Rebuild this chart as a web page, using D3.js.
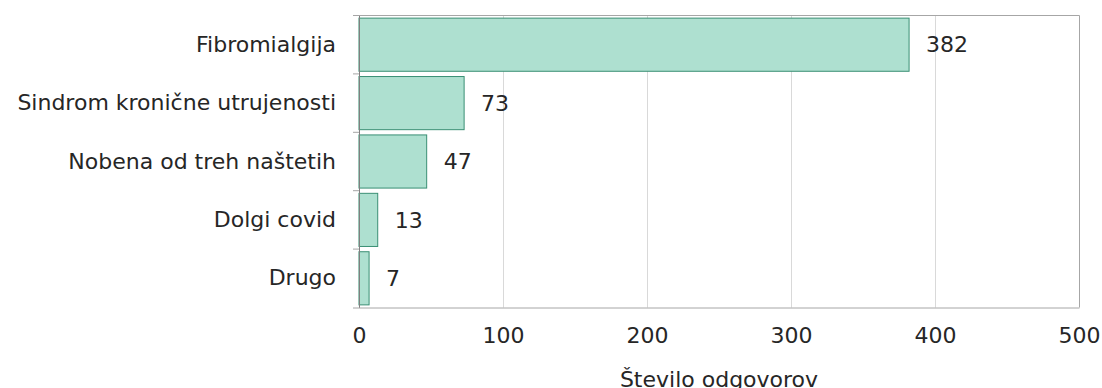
<!DOCTYPE html>
<html>
<head>
<meta charset="utf-8">
<script src="https://cdn.jsdelivr.net/npm/d3@7"></script>
<style>
  body { margin: 0; background: #fff; }
  text { font-family: "DejaVu Sans", sans-serif; fill: #262626; }
</style>
</head>
<body>
<div id="chart"></div>
<script>
// categories and values
var categories = ["Fibromialgija", "Sindrom kronične utrujenosti", "Nobena od treh naštetih", "Dolgi covid", "Drugo"];
var values = [382, 73, 47, 13, 7];
var xTicks = [0, 100, 200, 300, 400, 500];
var xTitle = "Število odgovorov";

var width = 1102, height = 388;
var plotLeft = 359, plotRight = 1079, plotTop = 15.5, plotBottom = 307.5;
var fontSize = "22px";

var svg = d3.select("#chart").append("svg")
  .attr("width", width)
  .attr("height", height);

var x = d3.scaleLinear().domain([0, 500]).range([plotLeft, plotRight]);
var y = d3.scaleBand().domain(categories).range([plotTop, plotBottom]).paddingInner(0.09).paddingOuter(0.045);

// gridlines
svg.append("g").selectAll("line").data(xTicks.slice(1, -1)).enter()
  .append("line")
  .attr("x1", function(d) { return x(d) + 0.5; })
  .attr("x2", function(d) { return x(d) + 0.5; })
  .attr("y1", plotTop).attr("y2", plotBottom)
  .attr("stroke", "#d9d9d9").attr("stroke-width", 1);

// plot border top and right
svg.append("path")
  .attr("d", "M" + plotLeft + "," + plotTop + "H" + (plotRight + 0.5) + "V" + plotBottom)
  .attr("fill", "none").attr("stroke", "#a6a6a6").attr("stroke-width", 1);

// bars
svg.append("g").selectAll("rect").data(values).enter()
  .append("rect")
  .attr("x", x(0))
  .attr("y", function(d, i) { return y(categories[i]); })
  .attr("width", function(d) { return x(d) - x(0); })
  .attr("height", y.bandwidth())
  .attr("fill", "#aee0d0")
  .attr("stroke", "#3a8f74")
  .attr("stroke-width", 1);

// value labels
svg.append("g").selectAll("text").data(values).enter()
  .append("text")
  .attr("x", function(d) { return x(d) + 17; })
  .attr("y", function(d, i) { return y(categories[i]) + y.bandwidth() / 2; })
  .attr("dy", "0.35em")
  .style("font-size", fontSize)
  .text(function(d) { return d; });

// y axis
var yAxis = svg.append("g")
  .attr("transform", "translate(" + plotLeft + ",0)")
  .call(d3.axisLeft(y).tickSize(0).tickPadding(23));
yAxis.select(".domain").attr("stroke", "#7f7f7f");
yAxis.selectAll("text").style("font-size", fontSize).attr("fill", "#262626");
// band boundary ticks
var bounds = categories.map(function(c, i) { return plotTop + i * (plotBottom - plotTop) / categories.length; });
svg.append("g").selectAll("line").data(bounds).enter()
  .append("line")
  .attr("x1", plotLeft - 6).attr("x2", plotLeft)
  .attr("y1", function(d) { return d; }).attr("y2", function(d) { return d; })
  .attr("stroke", "#a6a6a6");

// x axis
var xAxis = svg.append("g")
  .attr("transform", "translate(0," + plotBottom + ")")
  .call(d3.axisBottom(x).tickValues(xTicks).tickSize(0).tickPadding(20));
xAxis.select(".domain").attr("stroke", "#a6a6a6").attr("d", "M" + (plotLeft - 6) + ",0.5H" + (plotRight + 0.5));
xAxis.selectAll("text").style("font-size", fontSize).attr("fill", "#262626");

svg.append("text")
  .attr("x", (plotLeft + plotRight) / 2)
  .attr("y", 387)
  .attr("text-anchor", "middle")
  .style("font-size", fontSize)
  .text(xTitle);
</script>
</body>
</html>
